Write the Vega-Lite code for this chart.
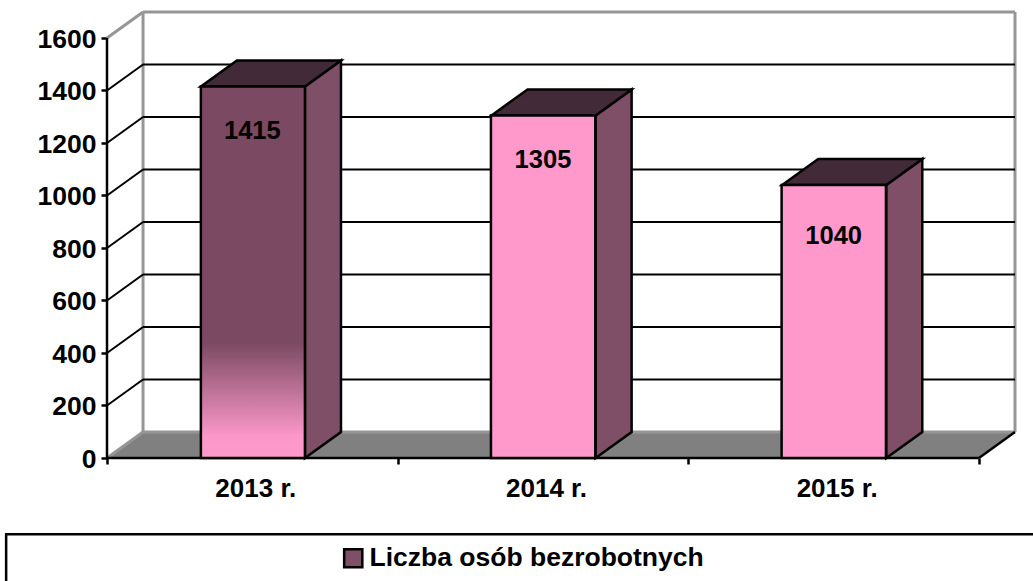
{
"$schema":"https://vega.github.io/schema/vega-lite/v6.json",
"width":908,"height":446,
"autosize":{"type":"none"},
"padding":{"left":107,"top":12,"right":18,"bottom":123},
"background":"white",
"config":{"view":{"stroke":null},"font":"Liberation Sans"},
"datasets":{
"bars":[{"year":"2013 r.","value":1415,"idx":0,"base":0,"series":"Liczba osób bezrobotnych"},{"year":"2014 r.","value":1305,"idx":1,"base":0,"series":"Liczba osób bezrobotnych"},{"year":"2015 r.","value":1040,"idx":2,"base":0,"series":"Liczba osób bezrobotnych"}],
"ticks":[{"tick":200},{"tick":400},{"tick":600},{"tick":800},{"tick":1000},{"tick":1200},{"tick":1400}],
"floor":[{"fx":0,"low":0,"high":0},{"fx":0.124,"low":0,"high":99},{"fx":3,"low":0,"high":99},{"fx":3.124,"low":99,"high":99}],
"wall":[{"a":0.124,"b":3.124,"c":1699,"d":1699},{"a":0.124,"b":0.124,"c":99,"d":1699},{"a":3.124,"b":3.124,"c":99,"d":1699},{"a":0,"b":0.124,"c":1600,"d":1699},{"a":0.124,"b":3.124,"c":99,"d":99},{"a":0,"b":0.124,"c":0,"d":99}]
},
"resolve":{"axis":{"x":"independent","y":"independent"}},
"layer":[
{"data":{"name":"floor"},"mark":{"type":"area","fill":"#808080","orient":"vertical"},
 "encoding":{"x":{"field":"fx","type":"quantitative","scale":{"domain":[0,3.124],"nice":false,"zero":false},"axis":{"orient":"bottom","values":[0,1,2,3],"labels":false,"domain":false,"grid":false,"title":null,"tickSize":6,"tickWidth":2.5,"tickColor":"black"}},
 "y":{"field":"low","type":"quantitative","scale":{"domain":[0,1699],"nice":false,"zero":false},"axis":{"orient":"left","format":"d","values":[0,200,400,600,800,1000,1200,1400,1600],"domain":false,"grid":false,"title":null,"ticks":true,"tickSize":6,"tickWidth":2.5,"tickColor":"black","labelFontSize":26.5,"labelFontWeight":"bold","labelColor":"black","labelPadding":5,"labelOffset":1.5,"labelFont":"Liberation Sans"}},
 "y2":{"field":"high"}}},
{"data":{"name":"wall"},"mark":{"type":"rule","stroke":"#969696","strokeWidth":3},
 "encoding":{"x":{"field":"a","type":"quantitative","axis":null},"x2":{"field":"b"},"y":{"field":"c","type":"quantitative","axis":null},"y2":{"field":"d"}}},
{"data":{"name":"ticks"},"mark":{"type":"rule","stroke":"black","strokeWidth":2},
 "transform":[{"calculate":"datum.tick+99","as":"backY"},{"calculate":"0.124","as":"wa"},{"calculate":"3.124","as":"wb"}],
 "encoding":{"x":{"field":"wa","type":"quantitative","axis":null},"x2":{"field":"wb"},"y":{"field":"backY","type":"quantitative","axis":null},"y2":{"field":"backY"}}},
{"data":{"name":"ticks"},"mark":{"type":"rule","stroke":"black","strokeWidth":2},
 "transform":[{"calculate":"datum.tick+99","as":"backY"},{"calculate":"0","as":"wa"},{"calculate":"0.124","as":"wb"}],
 "encoding":{"x":{"field":"wa","type":"quantitative","axis":null},"x2":{"field":"wb"},"y":{"field":"tick","type":"quantitative","axis":null},"y2":{"field":"backY"}}},
{"data":{"values":[{"a":0,"b":3,"c":0,"d":0},{"a":0,"b":0,"c":0,"d":1600},{"a":3,"b":3.124,"c":0,"d":99}]},"mark":{"type":"rule","stroke":"black","strokeWidth":2.5},
 "encoding":{"x":{"field":"a","type":"quantitative","axis":null},"x2":{"field":"b"},"y":{"field":"c","type":"quantitative","axis":null},"y2":{"field":"d"}}},
{"data":{"name":"bars"},"mark":{"type":"area","stroke":"black","strokeWidth":2.5,"orient":"vertical","strokeJoin":"miter"},
 "transform":[{"calculate":"[0,1]","as":"t"},{"flatten":["t"]},{"calculate":"datum.idx+0.681+datum.t*0.124","as":"sx"},{"calculate":"datum.t*99","as":"low"},{"calculate":"datum.value+datum.t*99","as":"high"}],
 "encoding":{"x":{"field":"sx","type":"quantitative","axis":null},"y":{"field":"low","type":"quantitative","axis":null},"y2":{"field":"high"},"detail":{"field":"year"},
 "color":{"field":"series","type":"nominal","scale":{"range":["#7F4E67"]},"legend":{"title":null,"orient":"none","legendX":233,"legendY":533,"symbolType":"square","symbolSize":330,"symbolStrokeColor":"black","symbolStrokeWidth":2.5,"symbolOpacity":1,"labelFontSize":26.5,"labelFontWeight":"bold","labelColor":"black","labelLimit":600,"labelOffset":3,"labelFont":"Liberation Sans"}}}},
{"data":{"name":"bars"},"mark":{"type":"area","fill":"#432A38","stroke":"black","strokeWidth":2.5,"orient":"vertical","strokeJoin":"miter"},
 "transform":[{"calculate":"[0,1,2,3]","as":"t"},{"flatten":["t"]},{"calculate":"datum.idx+(datum.t<2?0.323:0.681)+(datum.t%2)*0.124","as":"sx"},{"calculate":"datum.t==3?datum.value+99:datum.value","as":"low"},{"calculate":"datum.t==0?datum.value:datum.value+99","as":"high"}],
 "encoding":{"x":{"field":"sx","type":"quantitative","axis":null},"y":{"field":"low","type":"quantitative","axis":null},"y2":{"field":"high"},"detail":{"field":"year"}}},
{"data":{"name":"bars"},"mark":{"type":"rect","stroke":"black","strokeWidth":2.5,"fill":{"gradient":"linear","x1":0,"y1":1,"x2":0,"y2":0,"stops":[{"offset":0,"color":"#FF99CC"},{"offset":0.06,"color":"#FB97C9"},{"offset":0.31,"color":"#7B4A62"},{"offset":1,"color":"#7B4A62"}]}},
 "transform":[{"filter":"datum.idx==0"},{"calculate":"datum.idx+0.323","as":"x0"},{"calculate":"datum.idx+0.681","as":"x1"}],
 "encoding":{"x":{"field":"x0","type":"quantitative","axis":null},"x2":{"field":"x1"},"y":{"field":"base","type":"quantitative","axis":null},"y2":{"field":"value"}}},
{"data":{"name":"bars"},"mark":{"type":"rect","stroke":"black","strokeWidth":2.5,"fill":"#FF99CC"},
 "transform":[{"filter":"datum.idx>0"},{"calculate":"datum.idx+0.321","as":"x0"},{"calculate":"datum.idx+0.68","as":"x1"}],
 "encoding":{"x":{"field":"x0","type":"quantitative","axis":null},"x2":{"field":"x1"},"y":{"field":"base","type":"quantitative","axis":null},"y2":{"field":"value"}}},
{"data":{"name":"bars"},"mark":{"type":"text","font":"Liberation Sans","fontSize":25.5,"fontWeight":"bold","color":"black","baseline":"middle","align":"center"},
 "transform":[{"calculate":"datum.idx+0.5","as":"cx"},{"calculate":"datum.value<1100?datum.value-195:datum.value-168","as":"ly"}],
 "encoding":{"x":{"field":"cx","type":"quantitative","axis":{"orient":"bottom","values":[0.5,1.5,2.5],"labelExpr":"['2013 r.','2014 r.','2015 r.'][floor(datum.value)]","ticks":false,"domain":false,"grid":false,"title":null,"labelFontSize":26,"labelFontWeight":"bold","labelColor":"black","labelPadding":17,"labelOffset":3,"labelFont":"Liberation Sans"}},"y":{"field":"ly","type":"quantitative","axis":null},"text":{"field":"value","type":"quantitative","format":"d"}}},
{"data":{"values":[{"a":-0.347,"b":3.7,"c":-290,"d":-900}]},"mark":{"type":"rect","fill":null,"stroke":"black","strokeWidth":2.5},
 "encoding":{"x":{"field":"a","type":"quantitative","axis":null},"x2":{"field":"b"},"y":{"field":"c","type":"quantitative","axis":null},"y2":{"field":"d"}}}
]
}
